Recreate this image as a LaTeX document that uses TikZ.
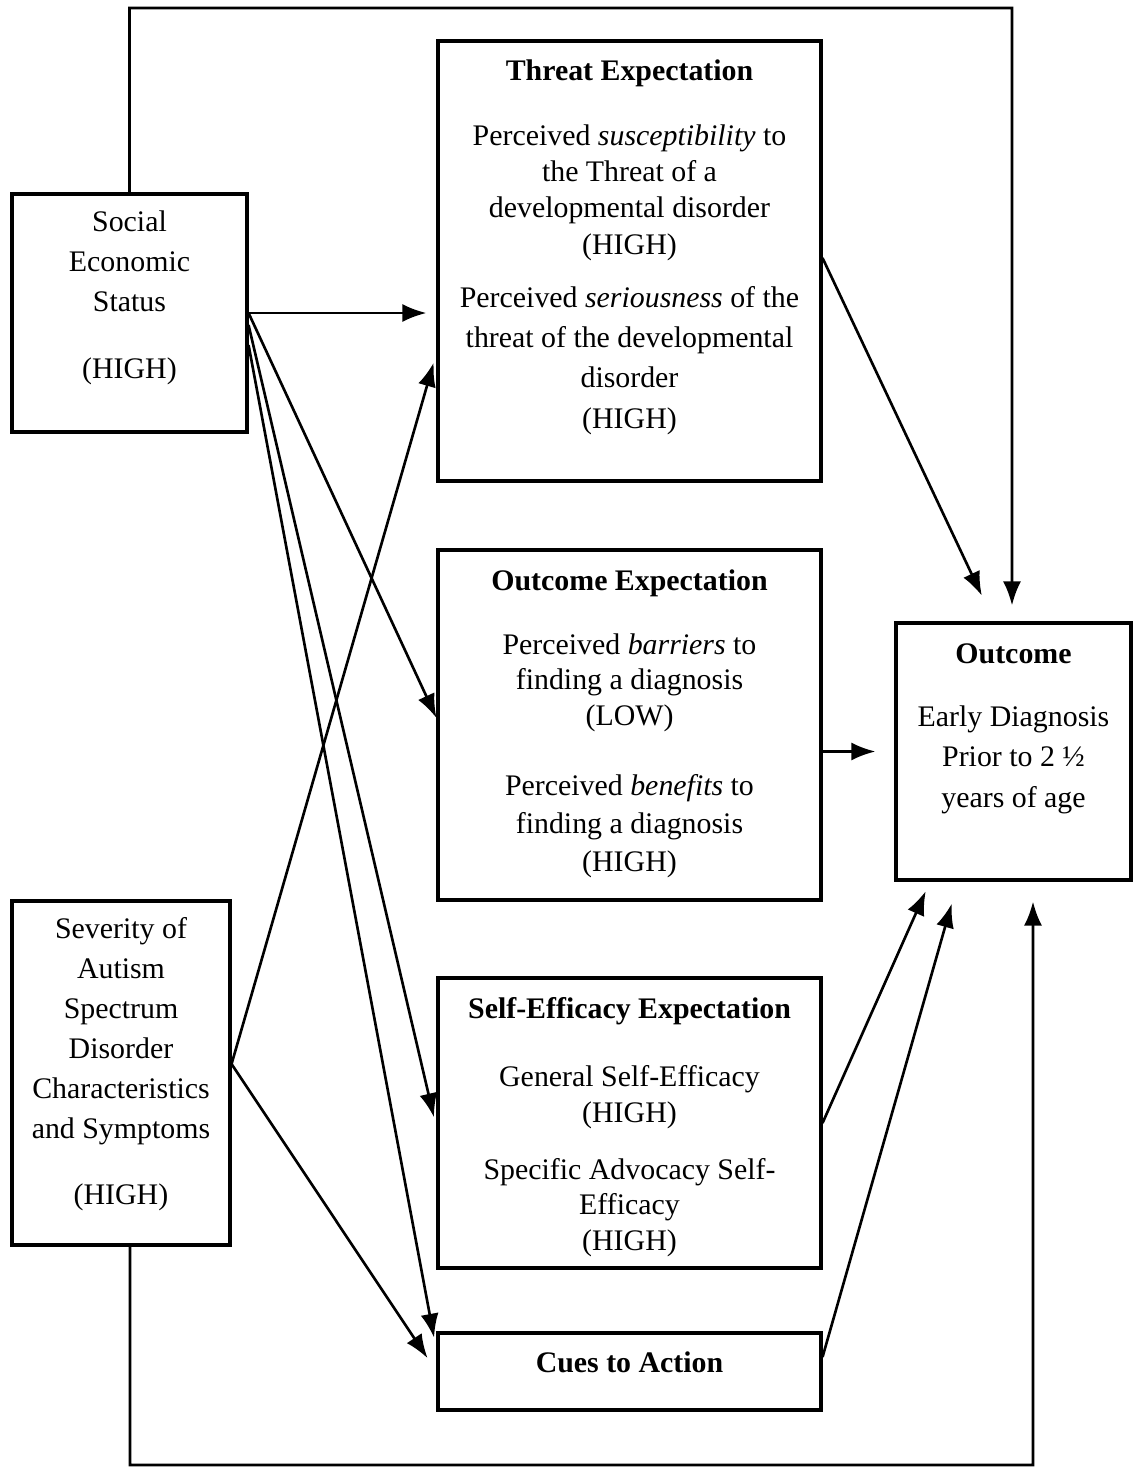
\documentclass[tikz,border=0pt]{standalone}
\usepackage{fontspec}
\setmainfont{Liberation Serif}
\usetikzlibrary{arrows.meta}

\tikzset{
	box/.style={draw, line width=1.8pt, inner sep=0pt},
	arr/.style={line width=1.5pt, -{Latex[length=0.48cm,width=0.36cm]}},
	txt/.style={align=center, anchor=base, inner sep=0pt, font=\fontsize{17}{#1}\selectfont},
	txt/.default=20,
	head/.style={txt, font=\fontsize{17}{20}\selectfont\bfseries}
}

\begin{document}
\begin{tikzpicture}[x=0.02cm, y=-0.02cm]
	\useasboundingbox (0,0) rectangle (1133,1467);

	\node[box, minimum width=4.7cm, minimum height=4.76cm] (ses) at (129.5,313) {};
	\node[box, minimum width=4.36cm, minimum height=6.88cm] (severity) at (121,1073) {};
	\node[box, minimum width=7.66cm, minimum height=8.8cm] (threat) at (629.5,261) {};
	\node[box, minimum width=7.66cm, minimum height=7cm] (outexp) at (629.5,725) {};
	\node[box, minimum width=7.66cm, minimum height=5.8cm] (selfeff) at (629.5,1123) {};
	\node[box, minimum width=7.66cm, minimum height=1.54cm] (cues) at (629.5,1371.5) {};
	\node[box, minimum width=4.7cm, minimum height=5.14cm] (outcome) at (1013.5,751.5) {};

	\node[txt=22.8] (sestxt) at (129.5,378) {Social\\Economic\\Status\\[0.52cm](HIGH)};
	\node[txt=22.8] (sevtxt) at (121,1204) {Severity of\\Autism\\Spectrum\\Disorder\\Characteristics\\and Symptoms\\[0.5cm](HIGH)};

	\node[head] (threathead) at (629.5,80) {Threat Expectation};
	\node[txt=20.5] (threatsus) at (629.5,254) {Perceived \textit{susceptibility} to\\the Threat of a\\developmental disorder\\(HIGH)};
	\node[txt=22.8] (threatser) at (629.5,428) {Perceived \textit{seriousness} of the\\threat of the developmental\\disorder\\(HIGH)};

	\node[head] (outexphead) at (629.5,590) {Outcome Expectation};
	\node[txt=20] (outexpbar) at (629.5,725) {Perceived \textit{barriers} to\\finding a diagnosis\\(LOW)};
	\node[txt=21.6] (outexpben) at (629.5,871) {Perceived \textit{benefits} to\\finding a diagnosis\\(HIGH)};

	\node[head] (selfeffhead) at (629.5,1018) {Self-Efficacy Expectation};
	\node[txt=20] (selfeffgen) at (629.5,1122) {General Self-Efficacy\\(HIGH)};
	\node[txt=20] (selfeffspec) at (629.5,1250) {Specific Advocacy Self-\\Efficacy\\(HIGH)};

	\node[head] (cueshead) at (629.5,1372) {Cues to Action};

	\node[head] (outcomehead) at (1013.5,663) {Outcome};
	\node[txt=22.8] (outcometxt) at (1013.5,807) {Early Diagnosis\\Prior to 2 ½\\years of age};

	\coordinate (topr) at (1012,8);
	\coordinate (botr) at (1033,1465);

	\draw[arr, shorten >=0.32cm] (ses.north) |- (topr) -- ([xshift=-0.03cm]outcome.north);
	\draw[arr, shorten >=0.4cm] ([xshift=0.18cm]severity.south) |- (botr) -- ([xshift=0.39cm]outcome.south);

	\draw[arr, shorten >=0.2cm] (ses.east) -- (threat.west |- ses.east);
	\draw[arr] (ses.east) -- ([yshift=0.14cm]outexp.west);
	\draw[arr, shorten >=0.22cm] ([yshift=-0.24cm]ses.east) -- ([yshift=-0.1cm]selfeff.west);
	\draw[arr, shorten >=0.26cm] ([yshift=-0.64cm]ses.east) -- ([yshift=0.42cm]cues.west);

	\draw[arr, shorten >=0.2cm] ([yshift=0.18cm]severity.east) -- ([yshift=-1.84cm]threat.west);
	\draw[arr, shorten >=0.32cm] ([yshift=0.18cm]severity.east) -- (cues.west);

	\draw[arr, shorten >=0.57cm] ([yshift=0.06cm]threat.east) -- ([xshift=-0.39cm]outcome.north);
	\draw[arr, shorten >=0.38cm] (outexp.east |- outcome.west) -- (outcome.west);
	\draw[arr, shorten >=0.21cm] (selfeff.east) -- ([xshift=-1.67cm]outcome.south);
	\draw[arr, shorten >=0.46cm] ([yshift=0.29cm]cues.east) -- ([xshift=-1.11cm]outcome.south);
\end{tikzpicture}
\end{document}
